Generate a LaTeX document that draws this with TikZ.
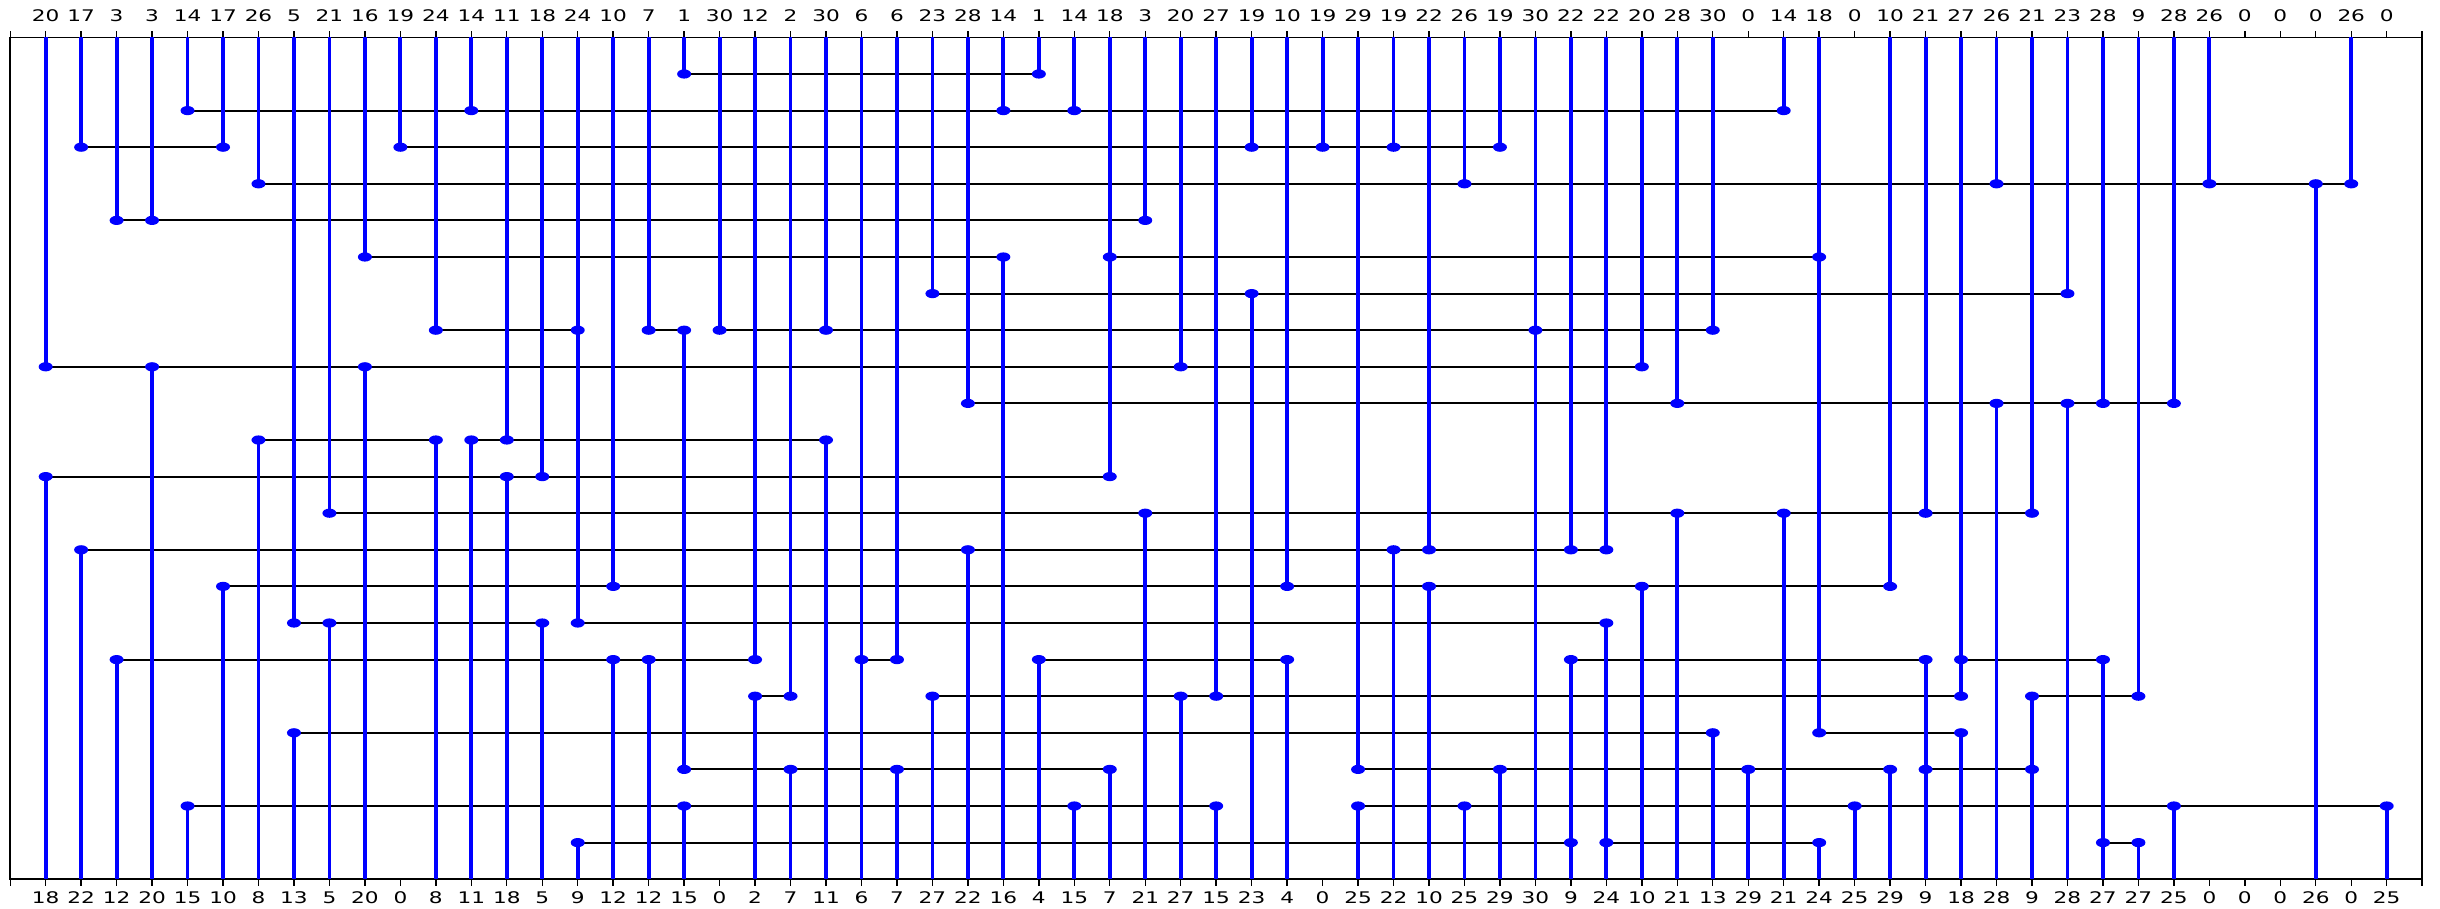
\documentclass[tikz,border=0pt]{standalone}
\usepackage{fontspec}
\setmainfont{DejaVu Sans}
\usepackage{tikz}

\newcommand{\pinlabel}[1]{\scalebox{1.35}[1]{#1}}

\begin{document}
\begin{tikzpicture}[
  x=35.47pt, y=-36.6pt,
  every node/.style = {font=\fontsize{16}{19}\selectfont, inner sep=0pt},
  toplbl/.style  = {anchor=south, yshift=15.3pt},
  botlbl/.style  = {anchor=north, yshift=-12.3pt},
  frame/.style   = {draw=black, line width=1.6pt},
  tickmark/.style= {black, line width=1.4pt},
  track/.style   = {black, line width=2pt},
  stub/.style    = {blue, line width=3.8pt},
  pin/.style     = {fill=blue, draw=none},
]
\useasboundingbox (-10.2pt,37.4pt) rectangle (2429.8pt,-871.6pt);

%% ══ FRAME AND TICKS ═════════════════════════════════════════════════════
\draw[frame] (0,0) rectangle (68,23);
\foreach \col in {0,...,68} {
  \draw[tickmark] (\col,0) -- ++(0pt,6.3pt);
  \draw[tickmark] (\col,23) -- ++(0pt,-6.3pt);
}

%% ══ PIN LABELS: top row, then bottom row ════════════════════════════════
\foreach \n [count=\col] in {20,17,3,3,14,17,26,5,21,16,19,24,14,11,18,24,10,7,
    1,30,12,2,30,6,6,23,28,14,1,14,18,3,20,27,19,10,19,29,19,22,26,19,30,22,
    22,20,28,30,0,14,18,0,10,21,27,26,21,23,28,9,28,26,0,0,0,26,0}
  \node[toplbl] (top-\col) at (\col,0) {\pinlabel{\n}};

\foreach \n [count=\col] in {18,22,12,20,15,10,8,13,5,20,0,8,11,18,5,9,12,12,
    15,0,2,7,11,6,7,27,22,16,4,15,7,21,27,15,23,4,0,25,22,10,25,29,30,9,24,10,
    21,13,29,21,24,25,29,9,18,28,9,28,27,27,25,0,0,0,26,0,25}
  \node[botlbl] (bot-\col) at (\col,23) {\pinlabel{\n}};

%% ── horizontal trunks (track / from column / to column) ─────────────────
\foreach \trk/\xa/\xb in {1/19/29, 2/5/50, 3/2/6, 3/11/42, 4/7/66, 5/3/32,
    6/10/28, 6/31/51, 7/26/58, 8/12/16, 8/18/19, 8/20/48, 9/1/46, 10/27/61,
    11/7/12, 11/13/23, 12/1/31, 13/9/57, 14/2/45, 15/6/53, 16/8/15, 16/16/45,
    17/3/21, 17/24/25, 17/29/36, 17/44/54, 17/55/59, 18/21/22, 18/26/55,
    18/57/60, 19/8/48, 19/51/55, 20/19/31, 20/38/53, 20/54/57, 21/5/34,
    21/38/67, 22/16/44, 22/45/51, 22/59/60}
  \draw[track] (\xa,\trk) -- (\xb,\trk);

%% ── vertical branches (column / from track / to track) ──────────────────
\foreach \col/\ya/\yb in {1/0/9, 1/12/23, 2/0/3, 2/14/23, 3/0/5, 3/17/23,
    4/0/5, 4/9/23, 5/0/2, 5/21/23, 6/0/3, 6/15/23, 7/0/4, 7/11/23, 8/0/16,
    8/19/23, 9/0/13, 9/16/23, 10/0/6, 10/9/23, 11/0/3, 12/0/8, 12/11/23,
    13/0/2, 13/11/23, 14/0/11, 14/12/23, 15/0/12, 15/16/23, 16/0/16, 16/22/23,
    17/0/15, 17/17/23, 18/0/8, 18/17/23, 19/0/1, 19/8/20, 19/21/23, 20/0/8,
    21/0/17, 21/18/23, 22/0/18, 22/20/23, 23/0/8, 23/11/23, 24/0/23,
    25/0/17, 25/20/23, 26/0/7, 26/18/23, 27/0/10, 27/14/23, 28/0/2, 28/6/23,
    29/0/1, 29/17/23, 30/0/2, 30/21/23, 31/0/12, 31/20/23, 32/0/5, 32/13/23,
    33/0/9, 33/18/23, 34/0/18, 34/21/23, 35/0/3, 35/7/23, 36/0/15, 36/17/23,
    37/0/3, 38/0/20, 38/21/23, 39/0/3, 39/14/23, 40/0/14, 40/15/23, 41/0/4,
    41/21/23, 42/0/3, 42/20/23, 43/0/23, 44/0/14, 44/17/23, 45/0/14,
    45/16/23, 46/0/9, 46/15/23, 47/0/10, 47/13/23, 48/0/8, 48/19/23,
    49/20/23, 50/0/2, 50/13/23, 51/0/19, 51/22/23, 52/21/23, 53/0/15,
    53/20/23, 54/0/13, 54/17/23, 55/0/18, 55/19/23, 56/0/4, 56/10/23,
    57/0/13, 57/18/23, 58/0/7, 58/10/23, 59/0/10, 59/17/23, 60/0/18,
    60/22/23, 61/0/10, 61/21/23, 62/0/4, 65/4/23, 66/0/4, 67/21/23}
  \draw[stub] (\col,\ya) -- (\col,\yb);

%% ── contacts ─────────────────────────────────────────────────────────────
\foreach \trk/\cols in {1/{19,29}, 2/{5,13,28,30,50}, 3/{2,6,11,35,37,39,42},
    4/{7,41,56,62,65,66}, 5/{3,4,32}, 6/{10,28,31,51}, 7/{26,35,58},
    8/{12,16,18,19,20,23,43,48}, 9/{1,4,10,33,46}, 10/{27,47,56,58,59,61},
    11/{7,12,13,14,23}, 12/{1,14,15,31}, 13/{9,32,47,50,54,57},
    14/{2,27,39,40,44,45}, 15/{6,17,36,40,46,53}, 16/{8,9,15,16,45},
    17/{3,17,18,21,24,25,29,36,44,54,55,59}, 18/{21,22,26,33,34,55,57,60},
    19/{8,48,51,55}, 20/{19,22,25,31,38,42,49,53,54,57},
    21/{5,19,30,34,38,41,52,61,67}, 22/{16,44,45,51,59,60}}
  \foreach \col in \cols
    \fill[pin] (\col,\trk) ellipse [x radius=7pt, y radius=4.6pt];

\end{tikzpicture}
\end{document}
